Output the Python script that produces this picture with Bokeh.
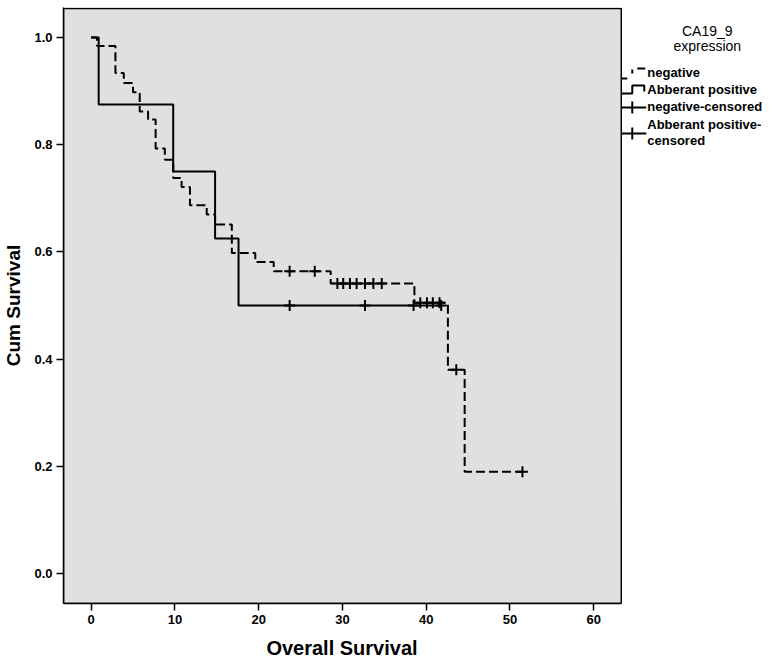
from bokeh.plotting import figure
from bokeh.models import Range1d, FixedTicker, NumeralTickFormatter, Title
from bokeh.core.properties import value
from bokeh.embed import file_html
from bokeh.resources import INLINE
import numpy as np

# ---------------- data ----------------
neg_time = [0.0, 0.7, 2.9, 3.9, 5.0, 5.8, 6.8, 7.7, 8.8, 9.8, 10.8, 11.8, 13.8, 14.8,
            16.8, 19.6, 21.8, 28.6, 38.6, 42.6, 44.6]
neg_surv = [1.0, 0.984, 0.934, 0.915, 0.898, 0.862, 0.847, 0.793, 0.772, 0.738, 0.721,
            0.687, 0.670, 0.651, 0.598, 0.581, 0.564, 0.541, 0.505, 0.380, 0.190]
neg_censor = [23.7, 26.7, 29.4, 30.1, 30.9, 31.7, 32.7, 33.7, 34.7,
              39.3, 40.1, 40.8, 41.6, 43.6, 51.5]

pos_time = [0.0, 0.9, 9.8, 14.8, 17.6]
pos_surv = [1.0, 0.875, 0.750, 0.625, 0.500]
pos_censor = [23.7, 32.7, 38.5, 41.8]

x_ticks = [0, 10, 20, 30, 40, 50, 60]
y_ticks = [0.0, 0.2, 0.4, 0.6, 0.8, 1.0]

x_title = "Overall Survival"
y_title = "Cum Survival"
legend_title = ["CA19_9", "expression"]
legend_labels = ["negative", "Abberant positive", "negative-censored",
                 "Abberant positive-", "censored"]

FONT = "Liberation Sans"

X0, X1 = -3.3, 63.3          # plotting area (gray box) in data units
Y0, Y1 = -0.056, 1.056
PX_PER_X = 8.375
FRAME_W = 704
FRAME_H = 596


def step_xy(times, surv, end):
    return list(times) + [end], list(surv) + [surv[-1]]


def surv_at(times, surv, ts):
    idx = np.searchsorted(np.array(times), np.array(ts), side="right") - 1
    return [surv[i] for i in idx]


x_end = X0 + FRAME_W / PX_PER_X
box_w = (X1 - X0) * PX_PER_X

p = figure(frame_width=FRAME_W, frame_height=FRAME_H,
           x_range=Range1d(X0, x_end), y_range=Range1d(Y0, Y1),
           output_backend="svg", toolbar_location=None,
           min_border_left=50, min_border_right=0, min_border_top=7,
           min_border_bottom=0)
p.background_fill_color = "white"
p.border_fill_color = "white"
p.outline_line_color = None
p.xgrid.visible = False
p.ygrid.visible = False

# legend coordinate system in pixels (x from frame left, y from frame top downward)
p.extra_x_ranges = {"lx": Range1d(0, FRAME_W)}
p.extra_y_ranges = {"ly": Range1d(FRAME_H, 0)}

for ax in (p.xaxis[0], p.yaxis[0]):
    ax.major_label_text_font = FONT
    ax.major_label_text_font_style = "bold"
    ax.major_label_text_font_size = "13px"
    ax.major_label_text_color = "black"
    ax.axis_label_text_font = FONT
    ax.axis_label_text_font_style = "bold"
    ax.axis_label_text_font_size = "19px"
    ax.axis_label_text_color = "black"
    ax.major_tick_out = 7
    ax.major_tick_in = 0
    ax.minor_tick_out = 0
    ax.minor_tick_in = 0
    ax.major_tick_line_width = 1.5
    ax.axis_line_width = 1.5
    ax.major_label_standoff = 4

p.xaxis.ticker = FixedTicker(ticks=x_ticks)
p.yaxis.ticker = FixedTicker(ticks=y_ticks)
p.yaxis.formatter = NumeralTickFormatter(format="0.0")
p.xaxis.bounds = (X0, X1)
p.yaxis.axis_label = y_title
p.yaxis.axis_label_standoff = 7

# x-axis title, centred under the gray box
p.add_layout(Title(text=x_title, align="left", offset=box_w / 2 - 76,
                   text_font=FONT, text_font_style="bold", text_font_size="20px",
                   text_color="black", standoff=17), "below")

# gray plotting box with black border
p.quad(left=[X0], right=[X1], bottom=[Y0], top=[Y1 - 0.002],
       fill_color="#e0e0e0", line_color="black", line_width=1.5)

nx, ny = step_xy(neg_time, neg_surv, max(neg_censor))
px, py = step_xy(pos_time, pos_surv, max(pos_censor))

p.step(px, py, mode="after", line_color="black", line_width=2)
p.step(nx, ny, mode="after", line_color="black", line_width=2, line_dash="9 4")

p.scatter(pos_censor, surv_at(pos_time, pos_surv, pos_censor), marker="cross",
          size=11, line_color="black", line_width=2)
p.scatter(neg_censor, surv_at(neg_time, neg_surv, neg_censor), marker="cross",
          size=11, line_color="black", line_width=2)

# ---------------- legend (pixel coords relative to frame) ----------------
LX = box_w  # right edge of gray box in legend pixels
lkw = dict(x_range_name="lx", y_range_name="ly")
p.text(x=[LX + 86, LX + 86], y=[23, 38], text=legend_title, text_font=value(FONT),
       text_font_size="14px", text_align="center", text_baseline="middle",
       text_color="black", **lkw)
p.text(x=[LX + 26] * 5, y=[65, 82, 99, 117, 133], text=legend_labels,
       text_font=value(FONT), text_font_style="bold", text_font_size="13px",
       text_align="left", text_baseline="middle", text_color="black", **lkw)

# negative: dashed step glyph
p.multi_line(xs=[[LX, LX + 6], [LX + 11, LX + 11], [LX + 16, LX + 24]],
             ys=[[71, 71], [66, 62], [61, 61]], line_color="black", line_width=2, **lkw)
# Abberant positive: solid step glyph
p.line(x=[LX, LX + 11, LX + 11, LX + 23, LX + 23], y=[86, 86, 78, 78, 84],
       line_color="black", line_width=2, **lkw)
# censored glyphs
p.multi_line(xs=[[LX, LX + 25], [LX + 11, LX + 11], [LX, LX + 25], [LX + 11, LX + 11]],
             ys=[[100, 100], [94, 106], [126, 126], [120, 132]],
             line_color="black", line_width=2, **lkw)

open("out.html", "w").write(file_html(p, INLINE))
